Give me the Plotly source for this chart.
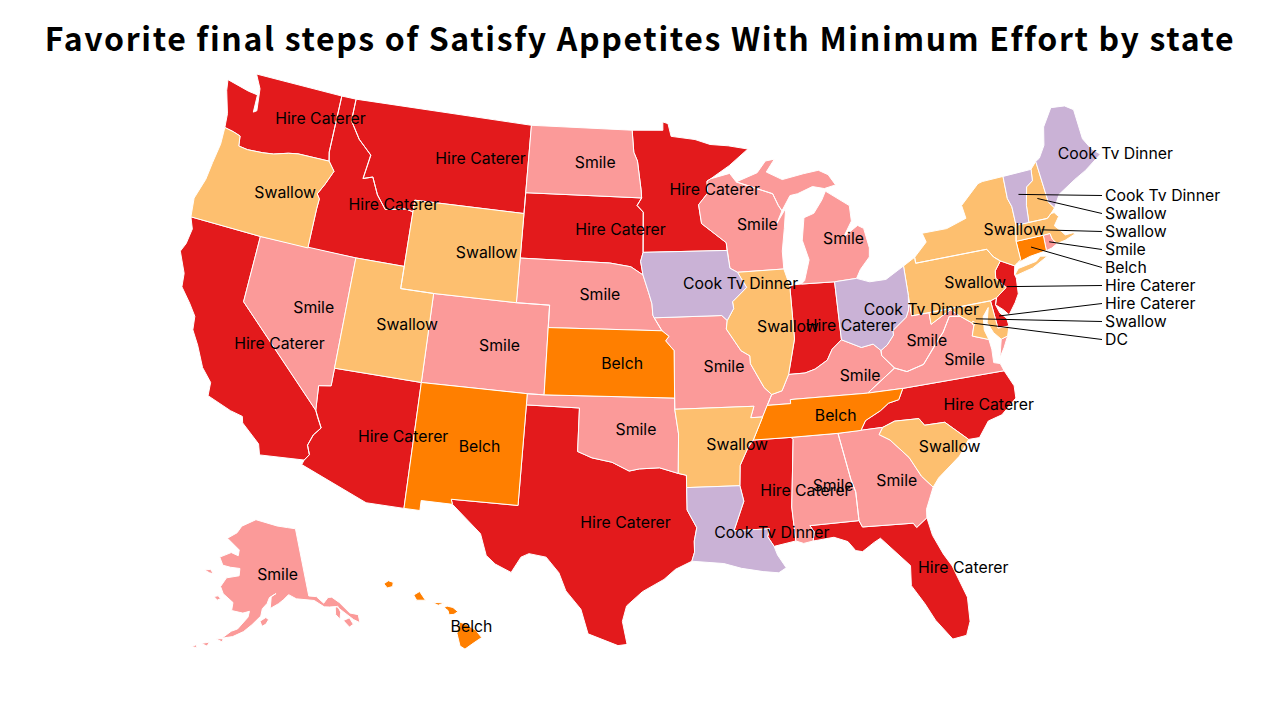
import numpy as np
import plotly.graph_objects as go

categories = ["Hire Caterer", "Smile", "Belch", "Swallow", "Cook Tv Dinner"]
colors = ["#e31a1c", "#fb9a99", "#ff7f00", "#fdbf6f", "#cab2d6"]

hire_caterer = ["WA", "ID", "MT", "CA", "AZ", "SD", "MN", "TX", "IN", "MS", "NC", "FL", "NJ", "DE"]
smile = ["NV", "CO", "ND", "NE", "OK", "MO", "WI", "MI", "KY", "WV", "VA", "AL", "GA", "RI", "AK"]
belch = ["NM", "KS", "TN", "CT", "HI"]
swallow = ["OR", "WY", "UT", "AR", "IL", "PA", "NY", "NH", "MA", "MD", "SC", "DC"]
cook_tv_dinner = ["IA", "LA", "OH", "ME", "VT"]
groups = [hire_caterer, smile, belch, swallow, cook_tv_dinner]

# labels pulled out to the right of the map, top to bottom
callout_states = ["VT", "NH", "MA", "RI", "CT", "NJ", "DE", "MD", "DC"]
callout_texts = ["Cook Tv Dinner", "Swallow", "Swallow", "Smile", "Belch",
                 "Hire Caterer", "Hire Caterer", "Swallow", "DC"]

TITLE = "Favorite final steps of Satisfy Appetites With Minimum Effort by state"
SCALE = 1275.0
TX, TY = 640.0, 360.0

# outlines are coarse, so these centroids land off the reference labels
label_nudge = {"MI": (11, 11), "LA": (-6, 0), "FL": (12, 0), "NY": (12, 0), "KY": (10, 0),
               "VA": (4, 0), "ME": (3, 0), "HI": (5, 2), "AK": (-2, 1)}

# state outlines, lon/lat, no map files available offline
outlines = {
    "WA": [[(-124.73,48.38),(-124.6,47.9),(-124.1,46.9),(-124.0,46.27),(-123.4,46.2),(-122.9,46.1),(-122.8,45.65),(-122.2,45.6),(-121.2,45.65),(-120.5,45.72),(-119.6,45.92),(-118.98,46.0),(-116.92,46.0),(-117.04,46.4),(-117.04,49.0),(-123.0,49.0),(-122.5,48.4),(-122.3,47.4),(-122.5,47.3),(-122.55,48.1),(-123.2,48.15)]],
    "OR": [[(-124.0,46.27),(-123.95,45.5),(-124.1,44.6),(-124.2,43.8),(-124.55,42.84),(-124.4,42.0),(-120.0,42.0),(-117.03,42.0),(-117.03,43.8),(-117.0,44.25),(-117.2,44.45),(-116.85,44.95),(-116.47,45.6),(-116.92,46.0),(-118.98,46.0),(-119.6,45.92),(-120.5,45.72),(-121.2,45.65),(-122.2,45.6),(-122.8,45.65),(-122.9,46.1),(-123.4,46.2)]],
    "CA": [[(-124.4,42.0),(-124.1,41.5),(-124.2,40.8),(-124.4,40.4),(-123.8,39.5),(-123.7,38.9),(-123.0,38.3),(-122.5,37.8),(-122.4,37.2),(-121.9,36.6),(-121.3,35.7),(-120.65,35.15),(-120.6,34.55),(-119.2,34.15),(-118.5,34.03),(-118.4,33.75),(-117.3,33.0),(-117.12,32.53),(-114.72,32.72),(-114.5,33.0),(-114.7,33.4),(-114.5,33.9),(-114.15,34.27),(-114.45,34.7),(-114.63,35.0),(-120.0,39.0),(-120.0,42.0)]],
    "NV": [[(-120.0,42.0),(-120.0,39.0),(-114.63,35.0),(-114.65,35.2),(-114.74,36.1),(-114.05,36.2),(-114.05,37.0),(-114.04,42.0)]],
    "ID": [[(-117.04,49.0),(-117.04,46.4),(-116.92,46.0),(-116.47,45.6),(-116.85,44.95),(-117.2,44.45),(-117.0,44.25),(-117.03,43.8),(-117.03,42.0),(-114.04,42.0),(-111.05,42.0),(-111.05,44.47),(-111.5,44.55),(-112.8,44.37),(-113.45,44.95),(-113.95,45.7),(-114.55,45.55),(-114.35,46.65),(-115.3,47.25),(-116.05,48.0),(-116.05,49.0)]],
    "MT": [[(-116.05,49.0),(-116.05,48.0),(-115.3,47.25),(-114.35,46.65),(-114.55,45.55),(-113.95,45.7),(-113.45,44.95),(-112.8,44.37),(-111.5,44.55),(-111.05,44.47),(-111.05,45.0),(-104.05,45.0),(-104.05,45.94),(-104.05,49.0)]],
    "WY": [[(-111.05,45.0),(-111.05,44.47),(-111.05,42.0),(-111.05,41.0),(-109.05,41.0),(-104.05,41.0),(-104.05,43.0),(-104.05,45.0)]],
    "UT": [[(-114.04,42.0),(-111.05,42.0),(-111.05,41.0),(-109.05,41.0),(-109.05,37.0),(-114.05,37.0)]],
    "AZ": [[(-114.05,37.0),(-109.05,37.0),(-109.05,31.33),(-111.07,31.33),(-114.8,32.5),(-114.72,32.72),(-114.5,33.0),(-114.7,33.4),(-114.5,33.9),(-114.15,34.27),(-114.45,34.7),(-114.63,35.0),(-114.65,35.2),(-114.74,36.1),(-114.05,36.2)]],
    "CO": [[(-109.05,41.0),(-104.05,41.0),(-102.05,41.0),(-102.05,40.0),(-102.04,37.0),(-103.0,37.0),(-109.05,37.0)]],
    "NM": [[(-109.05,37.0),(-103.0,37.0),(-103.0,36.5),(-103.05,32.0),(-106.62,32.0),(-106.53,31.78),(-108.2,31.78),(-108.2,31.33),(-109.05,31.33)]],
    "ND": [[(-104.05,49.0),(-97.23,49.0),(-97.1,48.0),(-96.85,47.6),(-96.6,46.3),(-96.56,45.94),(-104.05,45.94)]],
    "SD": [[(-104.05,45.94),(-96.56,45.94),(-96.85,45.6),(-96.45,45.3),(-96.45,43.5),(-96.6,43.1),(-96.45,42.49),(-97.2,42.85),(-98.5,43.0),(-104.05,43.0),(-104.05,45.0)]],
    "NE": [[(-104.05,43.0),(-98.5,43.0),(-97.2,42.85),(-96.45,42.49),(-96.1,41.7),(-95.9,41.2),(-95.85,40.7),(-95.77,40.58),(-95.31,40.0),(-102.05,40.0),(-102.05,41.0),(-104.05,41.0)]],
    "KS": [[(-102.05,40.0),(-95.31,40.0),(-94.9,39.75),(-95.1,39.55),(-94.61,39.11),(-94.62,37.0),(-102.04,37.0)]],
    "OK": [[(-103.0,37.0),(-102.04,37.0),(-94.62,37.0),(-94.62,36.5),(-94.43,35.4),(-94.48,33.64),(-95.5,33.9),(-96.6,33.85),(-97.15,33.75),(-98.1,34.13),(-99.2,34.3),(-100.0,34.56),(-100.0,36.5),(-103.0,36.5)]],
    "TX": [[(-103.0,36.5),(-100.0,36.5),(-100.0,34.56),(-99.2,34.3),(-98.1,34.13),(-97.15,33.75),(-96.6,33.85),(-95.5,33.9),(-94.48,33.64),(-94.04,33.55),(-94.04,33.0),(-94.04,32.0),(-93.55,31.2),(-93.7,30.6),(-93.7,30.1),(-93.85,29.7),(-94.7,29.35),(-95.3,28.9),(-96.4,28.35),(-97.2,27.7),(-97.4,27.0),(-97.15,25.96),(-97.6,25.9),(-99.1,26.4),(-99.5,27.5),(-100.3,28.3),(-100.7,29.1),(-101.4,29.77),(-102.3,29.88),(-102.7,29.7),(-103.15,28.98),(-104.0,29.3),(-104.5,29.65),(-104.9,30.6),(-106.53,31.78),(-106.62,32.0),(-103.05,32.0)]],
    "MN": [[(-97.23,49.0),(-95.15,49.0),(-95.15,49.38),(-94.8,49.3),(-94.6,48.72),(-93.0,48.55),(-92.0,48.3),(-90.8,48.2),(-89.5,48.0),(-90.8,47.3),(-92.05,46.75),(-92.3,46.65),(-92.3,46.1),(-92.9,45.6),(-92.75,44.75),(-91.25,43.85),(-91.22,43.5),(-96.45,43.5),(-96.45,45.3),(-96.85,45.6),(-96.56,45.94),(-96.6,46.3),(-96.85,47.6),(-97.1,48.0)]],
    "IA": [[(-96.45,43.5),(-91.22,43.5),(-91.1,42.7),(-90.65,42.5),(-90.15,41.8),(-91.05,41.2),(-91.0,40.9),(-91.42,40.38),(-91.73,40.61),(-95.77,40.58),(-95.85,40.7),(-95.9,41.2),(-96.1,41.7),(-96.45,42.49),(-96.6,43.1)]],
    "MO": [[(-95.77,40.58),(-91.73,40.61),(-91.42,40.38),(-91.5,40.0),(-90.7,39.0),(-90.2,38.75),(-90.2,38.4),(-89.5,37.3),(-89.1,36.97),(-89.4,36.5),(-89.7,36.0),(-90.37,36.0),(-90.15,36.5),(-94.62,36.5),(-94.62,37.0),(-94.61,39.11),(-95.1,39.55),(-94.9,39.75),(-95.31,40.0)]],
    "AR": [[(-94.62,36.5),(-90.15,36.5),(-90.37,36.0),(-89.7,36.0),(-90.3,35.0),(-90.6,34.7),(-91.1,33.9),(-91.17,33.0),(-94.04,33.0),(-94.04,33.55),(-94.48,33.64),(-94.43,35.4)]],
    "LA": [[(-94.04,33.0),(-91.17,33.0),(-91.0,32.3),(-91.6,31.0),(-89.73,31.0),(-89.85,30.65),(-89.55,30.2),(-89.4,29.8),(-89.0,29.2),(-89.4,29.0),(-90.2,29.1),(-91.3,29.3),(-92.2,29.55),(-93.85,29.7),(-93.7,30.1),(-93.7,30.6),(-93.55,31.2),(-94.04,32.0)]],
    "MS": [[(-90.3,35.0),(-88.2,35.0),(-88.1,34.9),(-88.47,31.9),(-88.4,30.37),(-89.55,30.2),(-89.85,30.65),(-89.73,31.0),(-91.6,31.0),(-91.0,32.3),(-91.17,33.0),(-91.1,33.9),(-90.6,34.7)]],
    "TN": [[(-90.3,35.0),(-89.7,36.0),(-89.4,36.5),(-88.07,36.5),(-88.07,36.68),(-83.68,36.6),(-81.68,36.59),(-82.0,36.12),(-82.6,36.03),(-83.1,35.75),(-84.0,35.4),(-84.32,34.99),(-85.6,34.98),(-88.2,35.0)]],
    "AL": [[(-88.2,35.0),(-85.6,34.98),(-85.18,32.87),(-85.0,32.3),(-85.0,31.0),(-87.6,31.0),(-87.4,30.7),(-87.5,30.3),(-88.0,30.23),(-88.4,30.37),(-88.47,31.9),(-88.1,34.9)]],
    "GA": [[(-85.6,34.98),(-84.32,34.99),(-83.1,35.0),(-83.35,34.7),(-82.8,34.4),(-81.9,33.5),(-81.4,32.6),(-80.87,32.03),(-81.4,31.1),(-81.45,30.72),(-82.05,30.36),(-82.2,30.57),(-84.86,30.7),(-85.0,31.0),(-85.0,32.3),(-85.18,32.87)]],
    "FL": [[(-87.6,31.0),(-85.0,31.0),(-84.86,30.7),(-82.2,30.57),(-82.05,30.36),(-81.45,30.72),(-81.3,29.9),(-80.9,29.0),(-80.55,28.4),(-80.05,26.9),(-80.12,25.8),(-80.4,25.2),(-81.1,25.13),(-81.8,26.1),(-82.2,26.9),(-82.75,27.8),(-82.65,28.7),(-83.4,29.5),(-84.0,30.1),(-84.35,29.95),(-85.0,29.6),(-85.35,29.68),(-85.7,30.12),(-86.4,30.38),(-87.5,30.3),(-87.4,30.7)]],
    "SC": [[(-83.35,34.7),(-83.1,35.0),(-82.4,35.2),(-81.05,35.15),(-80.8,34.82),(-79.67,34.8),(-78.55,33.86),(-79.2,33.2),(-80.5,32.4),(-80.87,32.03),(-81.4,32.6),(-81.9,33.5),(-82.8,34.4)]],
    "NC": [[(-84.32,34.99),(-83.1,35.0),(-82.4,35.2),(-81.05,35.15),(-80.8,34.82),(-79.67,34.8),(-78.55,33.86),(-77.95,33.85),(-77.3,34.5),(-76.5,34.65),(-75.55,35.25),(-75.5,35.8),(-75.87,36.55),(-81.68,36.59),(-82.0,36.12),(-82.6,36.03),(-83.1,35.75),(-84.0,35.4)]],
    "VA": [[(-83.68,36.6),(-81.68,36.59),(-75.87,36.55),(-76.0,36.9),(-76.35,37.0),(-76.3,37.6),(-76.35,38.05),(-77.25,38.35),(-77.04,38.79),(-77.12,38.93),(-77.72,39.32),(-78.35,39.4),(-78.87,38.76),(-79.3,38.42),(-80.3,37.5),(-81.3,37.3),(-81.97,37.54)],
           [(-75.95,37.15),(-75.6,37.55),(-75.25,38.03),(-75.65,37.95)]],
    "WV": [[(-81.97,37.54),(-81.3,37.3),(-80.3,37.5),(-79.3,38.42),(-78.87,38.76),(-78.35,39.4),(-77.72,39.32),(-78.2,39.68),(-78.4,39.62),(-79.48,39.2),(-79.48,39.72),(-80.52,39.72),(-80.52,40.64),(-80.65,40.0),(-80.85,39.7),(-81.75,39.2),(-81.75,39.0),(-82.2,38.6),(-82.6,38.4),(-82.6,38.17)]],
    "KY": [[(-89.4,36.5),(-88.07,36.5),(-88.07,36.68),(-83.68,36.6),(-81.97,37.54),(-82.6,38.17),(-82.6,38.4),(-83.0,38.73),(-83.7,38.65),(-84.8,39.1),(-85.4,38.73),(-85.75,38.27),(-86.5,37.93),(-87.1,37.8),(-88.05,37.8),(-88.5,37.1),(-89.1,36.97)]],
    "OH": [[(-84.8,41.7),(-83.45,41.73),(-82.7,41.5),(-81.7,41.5),(-80.52,41.97),(-80.52,40.64),(-80.65,40.0),(-80.85,39.7),(-81.75,39.2),(-81.75,39.0),(-82.2,38.6),(-82.6,38.4),(-83.0,38.73),(-83.7,38.65),(-84.8,39.1)]],
    "IN": [[(-87.53,41.72),(-87.2,41.76),(-86.82,41.76),(-84.8,41.7),(-84.8,39.1),(-85.4,38.73),(-85.75,38.27),(-86.5,37.93),(-87.1,37.8),(-88.05,37.8),(-87.53,39.35)]],
    "IL": [[(-90.65,42.5),(-87.8,42.5),(-87.53,41.72),(-87.53,39.35),(-88.05,37.8),(-88.5,37.1),(-89.1,36.97),(-89.5,37.3),(-90.2,38.4),(-90.2,38.75),(-90.7,39.0),(-91.5,40.0),(-91.42,40.38),(-91.0,40.9),(-91.05,41.2),(-90.15,41.8)]],
    "WI": [[(-92.05,46.75),(-90.8,46.95),(-90.4,46.55),(-89.0,46.15),(-88.1,45.9),(-87.8,45.35),(-87.6,45.1),(-88.0,44.55),(-87.35,45.2),(-87.55,44.3),(-87.8,43.3),(-87.8,42.5),(-90.65,42.5),(-91.1,42.7),(-91.22,43.5),(-91.25,43.85),(-92.75,44.75),(-92.9,45.6),(-92.3,46.1),(-92.3,46.65)]],
    "MI": [[(-86.82,41.76),(-84.8,41.7),(-83.45,41.73),(-83.15,42.1),(-82.5,42.6),(-82.42,43.0),(-82.6,43.9),(-82.95,44.07),(-83.9,43.65),(-83.3,44.3),(-83.3,45.0),(-84.7,45.78),(-85.0,45.4),(-85.6,44.85),(-86.25,44.7),(-86.5,43.7),(-86.2,42.8),(-86.6,41.9)],
           [(-90.4,46.55),(-89.0,46.9),(-88.4,47.4),(-87.8,47.45),(-88.4,46.9),(-87.4,46.5),(-86.0,46.67),(-85.0,46.75),(-84.4,46.5),(-84.0,46.0),(-84.75,45.9),(-85.5,46.05),(-86.5,45.8),(-87.0,45.75),(-87.6,45.1),(-87.8,45.35),(-88.1,45.9),(-89.0,46.15)]],
    "PA": [[(-80.52,41.97),(-79.76,42.27),(-79.76,42.0),(-75.35,42.0),(-75.05,41.6),(-74.7,41.36),(-75.13,40.98),(-75.2,40.65),(-74.72,40.15),(-75.4,39.8),(-75.79,39.72),(-79.48,39.72),(-80.52,39.72),(-80.52,40.64)]],
    "NY": [[(-79.76,42.27),(-78.9,42.85),(-79.05,43.27),(-77.5,43.27),(-76.2,43.55),(-76.3,44.15),(-75.0,44.95),(-74.7,45.0),(-73.34,45.01),(-73.4,44.0),(-73.25,43.6),(-73.27,42.75),(-73.5,42.05),(-73.49,41.2),(-73.73,41.1),(-73.92,41.0),(-74.7,41.36),(-75.05,41.6),(-75.35,42.0),(-79.76,42.0)],
           [(-74.05,40.6),(-73.75,40.85),(-72.6,40.97),(-72.3,41.15),(-71.87,41.07),(-72.9,40.72),(-73.9,40.58)]],
    "NJ": [[(-74.7,41.36),(-73.92,41.0),(-74.05,40.65),(-74.0,40.45),(-74.1,39.75),(-74.4,39.4),(-74.9,38.93),(-75.15,39.2),(-75.55,39.5),(-75.4,39.8),(-74.72,40.15),(-75.2,40.65),(-75.13,40.98)]],
    "DE": [[(-75.79,39.72),(-75.4,39.8),(-75.55,39.5),(-75.4,39.1),(-75.08,38.8),(-75.05,38.45),(-75.7,38.46)]],
    "MD": [[(-79.48,39.72),(-75.79,39.72),(-75.7,38.46),(-75.05,38.45),(-75.25,38.03),(-75.65,37.95),(-76.0,38.3),(-76.25,38.8),(-76.0,39.45),(-76.4,39.1),(-76.5,38.5),(-76.35,38.05),(-77.25,38.35),(-77.04,38.79),(-77.12,38.93),(-77.72,39.32),(-78.2,39.68),(-78.4,39.62),(-79.48,39.2)]],
    "DC": [[(-77.12,38.93),(-77.04,39.0),(-76.91,38.89),(-77.04,38.79)]],
    "CT": [[(-73.5,42.05),(-71.8,42.02),(-71.85,41.32),(-72.9,41.25),(-73.73,41.1),(-73.49,41.2)]],
    "RI": [[(-71.8,42.02),(-71.38,42.02),(-71.33,41.75),(-71.12,41.5),(-71.5,41.37),(-71.85,41.32)]],
    "MA": [[(-73.27,42.75),(-72.46,42.73),(-71.3,42.7),(-71.0,42.87),(-70.8,42.87),(-70.6,42.65),(-71.0,42.3),(-70.65,41.95),(-70.5,41.78),(-70.0,41.78),(-70.1,42.05),(-69.95,41.7),(-70.6,41.55),(-71.12,41.5),(-71.33,41.75),(-71.38,42.02),(-71.8,42.02),(-73.5,42.05)]],
    "NH": [[(-72.46,42.73),(-71.3,42.7),(-71.0,42.87),(-70.7,43.07),(-70.98,43.4),(-71.08,45.3),(-71.5,45.01),(-71.6,44.5),(-72.05,44.3),(-72.35,43.5)]],
    "VT": [[(-73.34,45.01),(-71.5,45.01),(-71.6,44.5),(-72.05,44.3),(-72.35,43.5),(-72.46,42.73),(-73.27,42.75),(-73.25,43.6),(-73.4,44.0)]],
    "ME": [[(-71.08,45.3),(-70.98,43.4),(-70.7,43.07),(-70.2,43.6),(-69.0,44.05),(-68.2,44.3),(-67.0,44.8),(-67.45,45.15),(-67.8,45.7),(-67.8,47.07),(-68.3,47.35),(-69.2,47.45),(-70.0,46.7),(-70.3,45.9),(-70.8,45.4)]],
    "AK": [[(-141.0,69.65),(-141.0,60.3),(-139.0,60.0),(-137.5,58.9),(-136.0,59.5),(-135.0,59.4),(-133.5,58.4),(-131.8,56.6),(-130.0,56.0),(-130.3,54.9),(-131.5,55.6),(-133.2,57.0),(-134.5,58.0),(-136.3,58.2),(-137.6,58.4),(-139.8,59.55),(-142.5,60.0),(-144.5,60.2),(-146.5,60.9),(-148.0,60.3),(-149.5,59.8),(-151.8,59.2),(-151.4,60.8),(-150.0,61.2),(-151.9,60.7),(-152.6,59.9),(-153.9,59.2),(-154.3,58.2),(-156.5,57.0),(-158.5,56.0),(-161.0,55.2),(-163.5,54.8),(-161.5,55.9),(-160.0,56.3),(-157.6,58.0),(-157.3,58.8),(-159.0,58.5),(-162.0,58.7),(-161.9,59.8),(-164.9,60.8),(-166.0,61.7),(-164.7,63.0),(-161.0,63.5),(-161.0,64.5),(-164.0,64.5),(-166.5,64.6),(-168.0,65.6),(-164.5,66.5),(-162.0,66.2),(-161.9,67.0),(-164.0,67.6),(-166.7,68.35),(-163.5,69.3),(-162.0,70.3),(-156.5,71.35),(-152.0,70.85),(-148.0,70.4),(-144.0,70.0)],
           [(-152.3,57.7),(-153.0,58.0),(-154.5,57.5),(-154.0,56.8),(-153.0,57.1)],
           [(-167.3,60.2),(-166.2,60.4),(-165.4,60.1),(-166.2,59.8)],
           [(-171.7,63.4),(-170.0,63.7),(-168.8,63.2),(-170.0,63.2)],
           [(-134.9,57.9),(-134.2,58.0),(-133.9,57.1),(-134.6,56.2),(-135.3,57.0)],
           [(-133.9,55.9),(-132.3,56.0),(-131.9,55.0),(-133.0,54.8)],
           [(-164.9,54.6),(-163.2,54.75),(-163.3,54.3)],
           [(-168.0,53.6),(-166.2,54.0),(-166.6,53.4)],
           [(-170.0,52.9),(-169.0,53.3),(-168.8,52.9)]],
    "HI": [[(-155.9,20.25),(-155.55,20.12),(-155.1,19.85),(-154.8,19.5),(-155.2,19.25),(-155.65,18.95),(-155.9,19.1),(-156.05,19.7)],
           [(-156.7,20.95),(-156.55,21.02),(-156.25,20.95),(-156.0,20.75),(-156.2,20.62),(-156.45,20.6),(-156.5,20.8)],
           [(-157.3,21.2),(-156.7,21.17),(-157.0,21.06)],
           [(-158.25,21.55),(-157.95,21.72),(-157.65,21.3),(-158.1,21.3)],
           [(-159.78,22.08),(-159.55,22.23),(-159.3,22.15),(-159.33,21.95),(-159.6,21.88)]],
}


def albers(pts, rotate, center, parallels, scale, ox, oy):
    p0, p1 = np.radians(parallels)
    n = (np.sin(p0) + np.sin(p1)) / 2
    c = 1 + np.sin(p0) * (2 * n - np.sin(p0))
    r0 = np.sqrt(c) / n

    def raw(lon, lat):
        lam = np.radians(lon + rotate) * n
        r = np.sqrt(c - 2 * n * np.sin(np.radians(lat))) / n
        return r * np.sin(lam), r0 - r * np.cos(lam)

    cx, cy = raw(center[0], center[1])
    x, y = raw(pts[:, 0], pts[:, 1])
    return np.column_stack([ox + scale * (x - cx), oy - scale * (y - cy)])


def project(code, pts):
    if code == "AK":
        return albers(pts, 154, (-2 - 154, 58.5), (55, 65), 0.33 * SCALE, TX - 0.3025 * SCALE, TY + 0.199 * SCALE)
    if code == "HI":
        return albers(pts, 157, (-3 - 157, 19.9), (8, 18), 0.94 * SCALE, TX - 0.2047 * SCALE, TY + 0.211 * SCALE)
    return albers(pts, 96, (-0.6 - 96, 38.7), (29.5, 45.5), SCALE, TX, TY)


def ring_area_centroid(p):
    x, y = p[:, 0], p[:, 1]
    x1, y1 = np.roll(x, -1), np.roll(y, -1)
    cross = x * y1 - x1 * y
    a = cross.sum() / 2
    return a, ((x + x1) * cross).sum() / (6 * a), ((y + y1) * cross).sum() / (6 * a)


shapes_px = {}
centroids = {}
for code, rings_ll in outlines.items():
    rings = [project(code, np.array(r)) for r in rings_ll]
    shapes_px[code] = rings
    parts = [ring_area_centroid(r) for r in rings]
    total = sum(abs(a) for a, _, _ in parts)
    centroids[code] = (sum(abs(a) * cx for a, cx, _ in parts) / total,
                       sum(abs(a) * cy for a, _, cy in parts) / total)

fig = go.Figure()

for name, color, members in zip(categories, colors, groups):
    xs, ys = [], []
    for code in members:
        for r in shapes_px[code]:
            xs += list(r[:, 0]) + [r[0, 0], None]
            ys += list(r[:, 1]) + [r[0, 1], None]
    fig.add_trace(go.Scatter(x=xs, y=ys, mode="lines", fill="toself", fillcolor=color, name=name,
                             line=dict(color="white", width=1), hoverinfo="skip"))

# leader lines
label_x = 1105
label_y = [195.5 + 18 * i for i in range(len(callout_states))]
for code, y in zip(callout_states, label_y):
    cx, cy = centroids[code]
    fig.add_trace(go.Scatter(x=[cx, label_x - 3], y=[cy, y], mode="lines",
                             line=dict(color="black", width=1), hoverinfo="skip"))

# map labels start a little left of the state centroid
lab_x, lab_y, lab_t = [], [], []
for name, members in zip(categories, groups):
    for code in members:
        if code in callout_states:
            continue
        nudge = label_nudge.get(code, (0, 0))
        lab_x.append(centroids[code][0] - 8 + nudge[0])
        lab_y.append(centroids[code][1] + 2 + nudge[1])
        lab_t.append(name)
lab_x += [label_x] * len(callout_texts)
lab_y += [y + 2 for y in label_y]
lab_t += callout_texts
fig.add_trace(go.Scatter(x=lab_x, y=lab_y, text=lab_t, mode="text", textposition="middle right",
                         textfont=dict(family="Inter", size=15.8, color="black"), hoverinfo="skip"))

fig.update_layout(
    width=1280, height=720, showlegend=False, paper_bgcolor="white", plot_bgcolor="white",
    margin=dict(l=0, r=0, t=0, b=0),
    title=dict(text=TITLE, x=0.5, xanchor="center", y=0.945, yanchor="middle",
               font=dict(family="Noto Sans CJK KR", size=32, color="black", weight="bold")),
    xaxis=dict(range=[0, 1280], visible=False, fixedrange=True),
    yaxis=dict(range=[720, 0], visible=False, fixedrange=True),
)

# title in the reference is spaced out, plotly has no option for that
page_fix = ("document.body.style.margin='0';"
            "document.querySelector('.gtitle').style.letterSpacing='1.65px';")
fig.write_html("out.html", post_script=page_fix, config={"displayModeBar": False})
